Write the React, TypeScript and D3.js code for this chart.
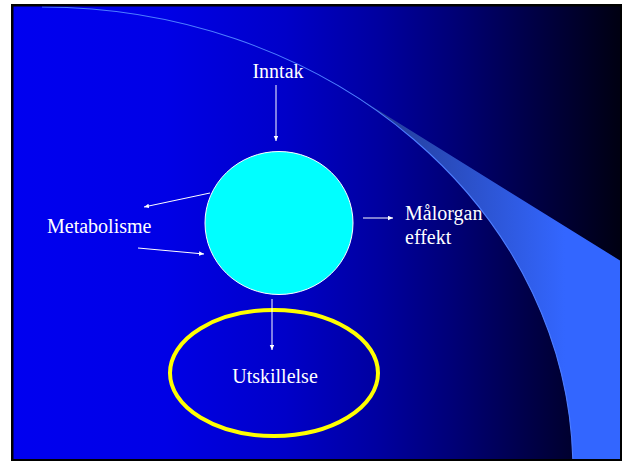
import { useEffect, useRef } from "react"
import * as d3 from "d3"

// labels in the slide
const nodeLabels = ["Inntak", "Metabolisme", "Målorgan", "Utskillelse"]
const subLabels = ["", "", "effekt", ""]
// arrows: [from, to] node ids, "c" = the central compartment
const arrowLinks = [
	["Inntak", "c"],
	["c", "Metabolisme"],
	["Metabolisme", "c"],
	["c", "Målorgan"],
	["c", "Utskillelse"],
]

// background gradient stops (offset, colour)
const bgOffsets = [0, 0.25, 0.45, 0.6, 0.72, 0.85, 1]
const bgColors = ["#0000f0", "#0000e6", "#0000c8", "#0000a0", "#000078", "#000048", "#000012"]

const App = () => {
	const svgRef = useRef(null)

	useEffect(() => {
		const width = 625
		const height = 461
		const svg = d3.select(svgRef.current).attr("width", width).attr("height", height)
		svg.selectAll("*").remove()

		// slide frame
		const x0 = 13.5, y0 = 6.5, x1 = 620, y1 = 459
		const defs = svg.append("defs")

		const bg = defs.append("linearGradient").attr("id", "bg")
			.attr("gradientUnits", "userSpaceOnUse")
			.attr("x1", x0).attr("x2", x1).attr("y1", 0).attr("y2", 0)
		bgOffsets.forEach((o, i) => bg.append("stop").attr("offset", o).attr("stop-color", bgColors[i]))

		const band = defs.append("linearGradient").attr("id", "band")
			.attr("gradientUnits", "userSpaceOnUse")
			.attr("x1", 380).attr("x2", 565).attr("y1", 0).attr("y2", 0)
		band.append("stop").attr("offset", 0).attr("stop-color", "#243d98")
		band.append("stop").attr("offset", 1).attr("stop-color", "#3366ff")

		defs.append("clipPath").attr("id", "slide")
			.append("rect").attr("x", x0).attr("y", y0).attr("width", x1 - x0).attr("height", y1 - y0)

		defs.append("marker").attr("id", "head")
			.attr("markerUnits", "userSpaceOnUse")
			.attr("markerWidth", 6).attr("markerHeight", 5)
			.attr("refX", 5).attr("refY", 2.25)
			.attr("orient", "auto")
			.append("path").attr("d", "M0,0L5,2.25L0,4.5Z").attr("fill", "#fff")

		svg.append("rect").attr("x", 11).attr("y", 4).attr("width", 611).attr("height", 457).attr("fill", "#000")
		svg.append("rect").attr("x", x0).attr("y", y0).attr("width", x1 - x0).attr("height", y1 - y0).attr("fill", "url(#bg)")

		// the big decorative arc (ellipse quarter) and the band under it
		const ecx = 42, ecy = 470, erx = 531, ery = 463
		const pt = (x: number) => ecy - ery * Math.sqrt(1 - ((x - ecx) / erx) ** 2)
		const tx = 350
		const ty = pt(tx)
		const u = (tx - ecx) / erx
		const slope = (ery * u) / (erx * Math.sqrt(1 - u * u))
		const yRight = ty + slope * (x1 - tx)
		const xBottom = ecx + erx * Math.sqrt(1 - ((y1 - ecy) / ery) ** 2)

		const deco = svg.append("g").attr("clip-path", "url(#slide)")
		const p = d3.path()
		p.moveTo(tx, ty)
		p.lineTo(x1, yRight)
		p.lineTo(x1, y1 + 2)
		p.lineTo(xBottom, y1 + 2)
		deco.append("path")
			.attr("d", p.toString() + `A${erx},${ery} 0 0 0 ${tx},${ty}Z`)
			.attr("fill", "url(#band)")

		deco.append("path")
			.attr("d", `M${ecx},${ecy - ery}A${erx},${ery} 0 0 1 ${xBottom},${y1 + 2}`)
			.attr("fill", "none")
			.attr("stroke", "#4d7dff")
			.attr("stroke-width", 1.1)

		// layout of the nodes
		const pos: Record<string, { x: number; y: number; anchor: string }> = {
			Inntak: { x: 278, y: 78, anchor: "middle" },
			Metabolisme: { x: 47, y: 233, anchor: "start" },
			Målorgan: { x: 405, y: 220, anchor: "start" },
			Utskillelse: { x: 275, y: 383, anchor: "middle" },
		}
		const ends: Record<string, [number, number, number, number]> = {
			"Inntak>c": [276, 85, 276, 141],
			"c>Metabolisme": [210, 193, 144, 207],
			"Metabolisme>c": [138, 248, 204, 254],
			"c>Målorgan": [363, 218, 393, 218],
			"c>Utskillelse": [272, 299, 272, 350],
		}

		svg.append("ellipse")
			.attr("cx", 274).attr("cy", 373).attr("rx", 104).attr("ry", 63)
			.attr("fill", "none").attr("stroke", "#ffff00").attr("stroke-width", 4)

		svg.append("ellipse")
			.attr("cx", 279).attr("cy", 223).attr("rx", 74).attr("ry", 71.5)
			.attr("fill", "#00ffff").attr("stroke", "#fff").attr("stroke-width", 1)

		svg.selectAll("line.arrow")
			.data(arrowLinks)
			.enter()
			.append("line")
			.attr("class", "arrow")
			.attr("x1", d => ends[d.join(">")][0])
			.attr("y1", d => ends[d.join(">")][1])
			.attr("x2", d => ends[d.join(">")][2])
			.attr("y2", d => ends[d.join(">")][3])
			.attr("stroke", "#fff")
			.attr("stroke-width", 1)
			.attr("marker-end", "url(#head)")

		const txt = svg.selectAll("text.lbl")
			.data(nodeLabels)
			.enter()
			.append("text")
			.attr("class", "lbl")
			.attr("x", d => pos[d].x)
			.attr("y", d => pos[d].y)
			.attr("text-anchor", d => pos[d].anchor)
			.attr("font-family", "'Liberation Serif', 'Times New Roman', serif")
			.attr("font-size", 20)
			.attr("fill", "#fff")
		txt.append("tspan").text(d => d)
		txt.filter(d => subLabels[nodeLabels.indexOf(d)] !== "")
			.append("tspan")
			.attr("x", d => pos[d].x)
			.attr("dy", 24)
			.text(d => subLabels[nodeLabels.indexOf(d)])
	}, [])

	return <svg ref={svgRef} style={{ position: "absolute", left: 0, top: 0 }}></svg>
}

export default App
